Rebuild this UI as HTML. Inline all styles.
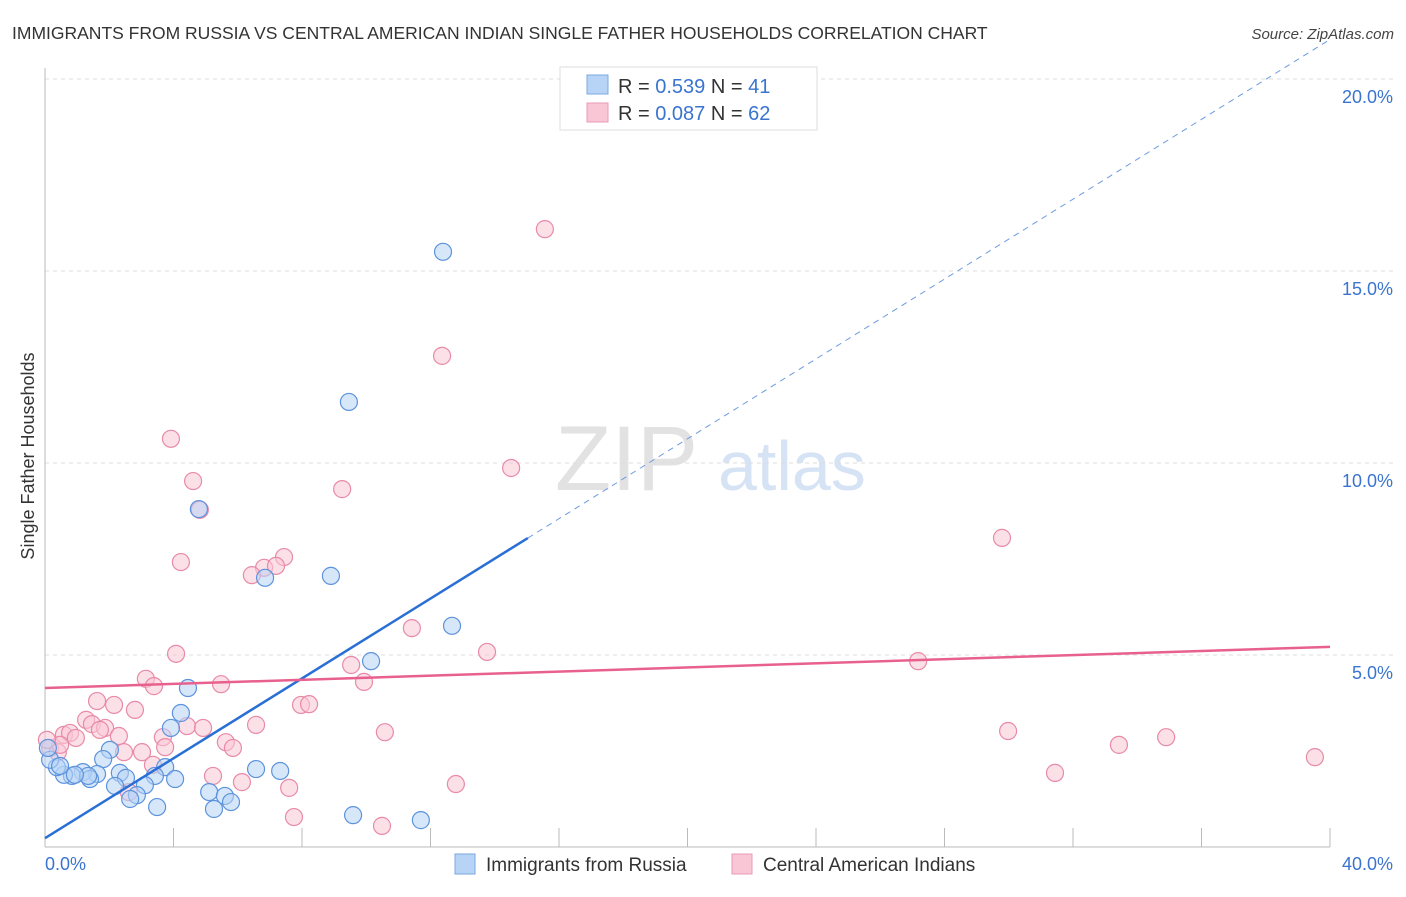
<!DOCTYPE html>
<html><head><meta charset="utf-8"><style>
body{margin:0;background:#fff;font-family:"Liberation Sans",sans-serif}
svg text{font-family:"Liberation Sans",sans-serif}
</style></head><body>
<svg id="chart" width="1406" height="892" xmlns="http://www.w3.org/2000/svg">
<text x="12" y="39" font-size="17.5" fill="#333">IMMIGRANTS FROM RUSSIA VS CENTRAL AMERICAN INDIAN SINGLE FATHER HOUSEHOLDS CORRELATION CHART</text>
<text x="1394" y="39" font-size="15" fill="#444" text-anchor="end" font-style="italic">Source: ZipAtlas.com</text>
<g>
<text x="555" y="490" font-size="92" fill="#e2e2e2" font-family="Liberation Serif" >ZIP</text>
<text x="718" y="490" font-size="70" fill="#d5e3f5">atlas</text>
</g>
<g id="grid"></g>
<g id="axes"></g>
<g id="points"></g>
<g id="trends"></g>
<text transform="translate(34,456) rotate(-90)" font-size="18" fill="#333" text-anchor="middle">Single Father Households</text>
<g>
<rect x="560" y="67" width="257" height="63" fill="#fff" stroke="#ddd"/>
<rect x="587" y="75" width="21" height="19" fill="#b7d3f5" stroke="#7aa8e0"/>
<rect x="587" y="103" width="21" height="19" fill="#f9c6d5" stroke="#eb9ab3"/>
<text x="618" y="93" font-size="20" fill="#333">R = <tspan fill="#3a74d0">0.539</tspan>   N = <tspan fill="#3a74d0">41</tspan></text>
<text x="618" y="120" font-size="20" fill="#333">R = <tspan fill="#3a74d0">0.087</tspan>   N = <tspan fill="#3a74d0">62</tspan></text>
</g>
<g>
<rect x="455" y="854" width="20" height="20" fill="#b7d3f5" stroke="#7aa8e0"/>
<text x="486" y="871" font-size="19" fill="#333">Immigrants from Russia</text>
<rect x="732" y="854" width="20" height="20" fill="#f9c6d5" stroke="#eb9ab3"/>
<text x="763" y="871" font-size="19" fill="#333">Central American Indians</text>
</g>
</svg>
<script>
const blueX=[12.39,9.46,4.79,6.85,8.90,12.67,10.15,4.45,4.23,3.92,2.02,1.81,3.74,2.33,2.52,3.42,4.05,1.62,1.18,1.40,0.84,0.59,0.37,0.16,3.11,2.18,2.86,2.65,5.11,5.60,5.79,3.49,5.26,6.57,7.32,9.59,11.70,0.09,0.47,1.34,0.93];
const blueY=[15.5,11.59,8.80,7.01,7.06,5.76,4.84,4.14,3.49,3.10,2.53,2.29,2.08,1.93,1.80,1.85,1.77,1.90,1.95,1.77,1.85,1.88,2.08,2.27,1.61,1.59,1.35,1.25,1.43,1.33,1.17,1.04,0.99,2.03,1.98,0.83,0.70,2.58,2.11,1.85,1.88];
const pinkX=[15.56,12.36,3.92,14.51,9.25,4.61,4.82,4.23,29.79,7.44,6.82,6.44,7.19,11.42,13.76,9.53,27.18,4.08,9.93,3.14,3.39,5.48,1.62,2.15,2.80,7.97,8.22,1.28,1.46,1.87,2.30,1.71,0.59,0.78,0.96,3.67,4.42,4.92,6.57,10.58,29.98,5.63,5.85,3.74,2.46,3.02,0.16,0.40,3.36,5.23,6.13,7.60,12.79,31.44,33.43,34.90,39.53,7.75,10.49,2.61,0.47,0.06];
const pinkY=[16.09,12.79,10.63,9.87,9.32,9.53,8.78,7.42,8.05,7.55,7.27,7.08,7.32,5.70,5.08,4.74,4.84,5.03,4.30,4.38,4.19,4.24,3.80,3.70,3.57,3.70,3.72,3.31,3.20,3.10,2.89,3.05,2.92,2.97,2.84,2.86,3.15,3.10,3.18,2.99,3.02,2.73,2.58,2.60,2.47,2.47,2.58,2.47,2.14,1.85,1.69,1.54,1.64,1.93,2.66,2.86,2.34,0.78,0.55,1.43,2.66,2.79];
const yTicks=[5,10,15,20];
const yTickLabels=["5.0%","10.0%","15.0%","20.0%"];
const xTicks=[0,4,8,12,16,20,24,28,32,36,40];
const xTickLabels=["0.0%","40.0%"];
const blueTrend=[0.23,0.52];
const pinkTrend=[4.14,0.0268];
const NS="http://www.w3.org/2000/svg";
const X=v=>45+v*32.125, Y=v=>847-v*38.4;
function mk(tag,attrs,parent){const e=document.createElementNS(NS,tag);for(const k in attrs)e.setAttribute(k,attrs[k]);document.getElementById(parent).appendChild(e);return e;}
yTicks.forEach((t,i)=>{
 const l=mk('line',{x1:45,x2:1395,y1:Y(t),y2:Y(t),stroke:'#ddd','stroke-dasharray':'4,4'},'grid');
 
 
 const tx=mk('text',{x:1393,y:Y(t)+24,'font-size':18,fill:'#3a74d0','text-anchor':'end'},'grid');tx.textContent=yTickLabels[i];
 
 
});
const ax=mk('line',{x1:45,x2:45,y1:68,y2:847,stroke:'#bbb'},'axes');


const bx=mk('line',{x1:45,x2:1330,y1:847,y2:847,stroke:'#bbb'},'axes');


xTicks.forEach(t=>{if(t===0)return;const l=mk('line',{x1:X(t),x2:X(t),y1:828,y2:847,stroke:'#bbb'},'axes');
 
 });
[[0,45,'start'],[40,1393,'end']].forEach((a,i)=>{const t=mk('text',{x:a[1],y:870,'font-size':18,fill:'#3a74d0','text-anchor':a[2]},'axes');t.textContent=xTickLabels[i];
 
 });
function pts(xs,ys,fill,stroke,name){xs.forEach((x,i)=>{const c=mk('circle',{cx:X(x),cy:Y(ys[i]),r:8.5,fill:fill,'fill-opacity':0.55,stroke:stroke,'stroke-width':1.2},'points');
 
 });}
pts(pinkX,pinkY,'#f9c6d5','#e88aa8','pink-point');
pts(blueX,blueY,'#b7d3f5','#5d93dc','blue-point');
const bf=x=>blueTrend[0]+blueTrend[1]*x, pf=x=>pinkTrend[0]+pinkTrend[1]*x;
let l=mk('line',{x1:X(0),y1:Y(bf(0)),x2:X(15.03),y2:Y(bf(15.03)),stroke:'#2a6fd6','stroke-width':2.5},'trends');


l=mk('line',{x1:X(15.03),y1:Y(bf(15.03)),x2:X(40),y2:Y(bf(40)),stroke:'#6d9be0','stroke-width':1,'stroke-dasharray':'6,5'},'trends');


l=mk('line',{x1:X(0),y1:Y(pf(0)),x2:X(40),y2:Y(pf(40)),stroke:'#e8608e','stroke-width':2.5},'trends');


</script>
</body></html>
